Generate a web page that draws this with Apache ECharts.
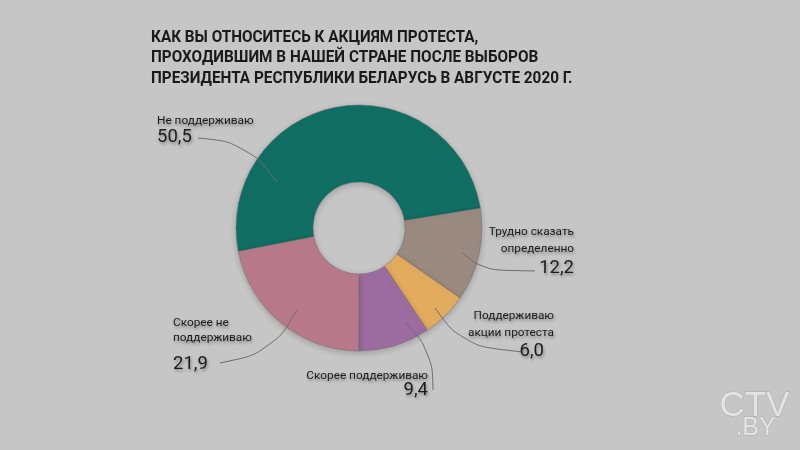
<!DOCTYPE html>
<html><head><meta charset="utf-8">
<script src="https://cdn.jsdelivr.net/npm/echarts@6/dist/echarts.min.js"></script>
<style>html,body{margin:0;padding:0;background:#c6c6c6;}#c{width:800px;height:450px;}</style>
</head><body><div id="c"></div>
<script>
var categories = ['Не поддерживаю', 'Трудно сказать\nопределенно', 'Поддерживаю\nакции протеста', 'Скорее поддерживаю', 'Скорее не\nподдерживаю'];
var values = [50.5, 12.2, 6.0, 9.4, 21.9];
var colors = ['#116e62', '#9a8a80', '#e2ab5e', '#9c6ca1', '#b87a8a'];
var titleLines = ['КАК ВЫ ОТНОСИТЕСЬ К АКЦИЯМ ПРОТЕСТА,', 'ПРОХОДИВШИМ В НАШЕЙ СТРАНЕ ПОСЛЕ ВЫБОРОВ', 'ПРЕЗИДЕНТА РЕСПУБЛИКИ БЕЛАРУСЬ В АВГУСТЕ 2020 Г.'];

// label placement (layout only)
var layout = [
  {x:157, y:113.5, align:'left',  nLH:16,   vLH:15,  vPad:0,  line:[[277,182],[247,143],[198,138]]},
  {x:574, y:223.5, align:'right', nLH:17,   vLH:22,  vPad:0,  line:[[463,253],[483,270],[535,271]]},
  {x:554, y:307.5, align:'right', nLH:17,   vLH:19,  vPad:10, line:[[435,308],[462,345],[522,352]]},
  {x:428, y:369,   align:'right', nLH:14,   vLH:14,  vPad:0,  line:[[406,323],[432,352],[433,390]]},
  {x:173, y:316,   align:'left',  nLH:14.5, vLH:39.5,vPad:0,  line:[[297,310],[272,352],[220,363]]}
];
var shadow = {textShadowColor:'rgba(0,0,0,0.35)', textShadowBlur:3, textShadowOffsetX:1, textShadowOffsetY:2};
function fmt(v){ return v.toFixed(1).replace('.', ','); }

var baseData = categories.map(function(n, i){
  return {name: n, value: values[i], itemStyle: {color: colors[i]}};
});
var labelData = categories.map(function(n, i){
  var L = layout[i];
  return {
    name: n, value: values[i],
    label: {
      rich: {
        n: Object.assign({fontFamily:'Roboto', fontSize:11.8, color:'#1c1c1c', lineHeight:L.nLH, align:L.align}, shadow),
        v: Object.assign({fontFamily:'Roboto', fontSize:18.5, color:'#1c1c1c', lineHeight:L.vLH, align:L.align, padding:[0, L.vPad, 0, 0]}, shadow)
      }
    }
  };
});

var chart = echarts.init(document.getElementById('c'), null, {renderer:'canvas'});
var titleGraphics = titleLines.map(function(t, i){
  return {type:'text', x:151, y:29 + i*20.5, scaleX:0.9, style:{text:t, font:'bold 17px Roboto', fill:'#1a1a1a', shadowColor:'rgba(0,0,0,0.5)', shadowBlur:4, shadowOffsetX:1, shadowOffsetY:2}};
});
chart.setOption({
  backgroundColor: '#c6c6c6',
  animation: false,
  graphic: titleGraphics.concat([
    {type:'text', left:719, top:388, style:{text:'CTV', font:'35px "Liberation Sans"', fill:'#e4e4e4', stroke:'rgba(150,150,150,0.6)', lineWidth:0.8, shadowColor:'rgba(0,0,0,0.25)', shadowBlur:3, shadowOffsetX:1, shadowOffsetY:1}},
    {type:'text', left:735, top:415, style:{text:'.BY', font:'25px "Liberation Sans"', fill:'#e4e4e4', stroke:'rgba(150,150,150,0.6)', lineWidth:0.8, shadowColor:'rgba(0,0,0,0.25)', shadowBlur:3, shadowOffsetX:1, shadowOffsetY:1}}
  ]),
  series: [{
    type: 'pie',
    z: 2,
    center: [359, 228],
    radius: [46, 123],
    startAngle: 191,
    clockwise: true,
    silent: true,
    itemStyle: {borderColor:'rgba(110,110,110,0.45)', borderWidth:1, shadowColor:'rgba(0,0,0,0.2)', shadowBlur:6, shadowOffsetY:2},
    emphasis: {disabled:true},
    label: {show:false},
    labelLine: {show:false},
    data: baseData
  }, {
    type: 'pie',
    z: 5,
    center: [359, 228],
    radius: [46, 123],
    startAngle: 191,
    clockwise: true,
    silent: true,
    itemStyle: {color:'rgba(0,0,0,0)', borderWidth:0},
    emphasis: {disabled:true},
    label: {
      show: true,
      opacity: 1,
      position: 'outside',
      formatter: function(p){
        return p.name.split('\n').map(function(s){return '{n|' + s + '}';}).join('\n') + '\n{v|' + fmt(p.value) + '}';
      }
    },
    labelLine: {show:true, smooth:0.4, lineStyle:{color:'#6c6c6c', width:1, opacity:1}},
    labelLayout: function(p){
      var L = layout[p.dataIndex];
      return {x:L.x, y:L.y, align:L.align, verticalAlign:'top', labelLinePoints:L.line};
    },
    data: labelData
  }]
});
</script></body></html>
